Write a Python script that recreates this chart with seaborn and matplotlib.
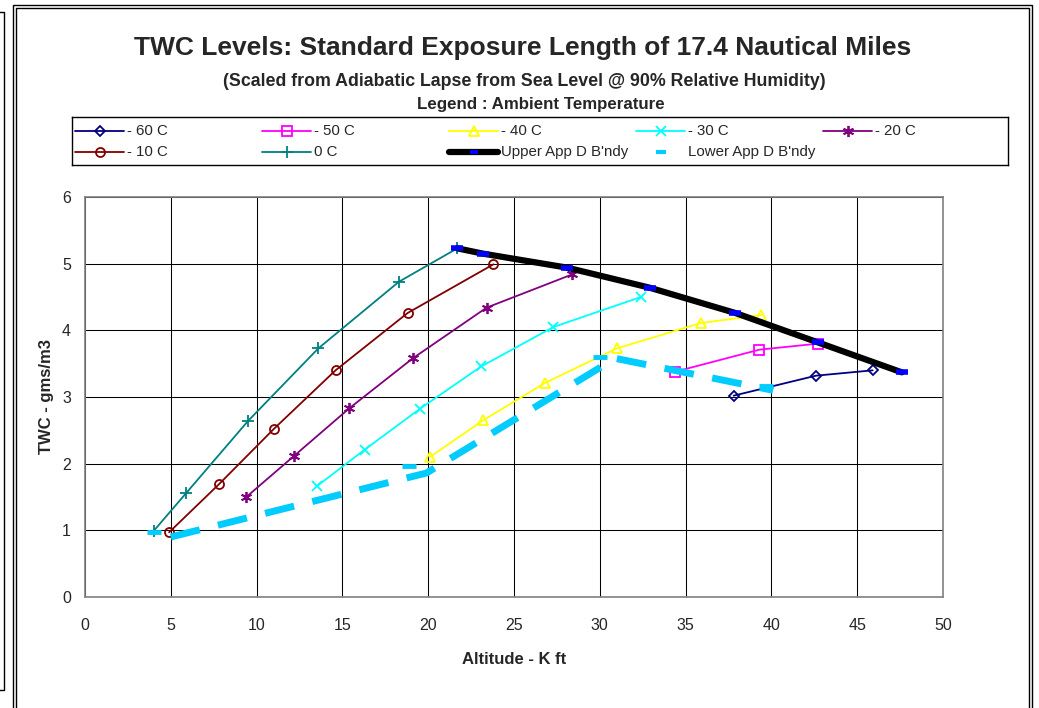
import matplotlib
matplotlib.use("Agg")
import matplotlib.pyplot as plt
import matplotlib.lines as mlines
import matplotlib.patches as mpatches
import seaborn as sns
import pandas as pd

# ---------------- data ----------------
series_labels = ["- 60 C", "- 50 C", "- 40 C", "- 30 C", "- 20 C", "- 10 C", "0 C"]

alt_m60 = [37.8, 42.6, 45.9]
twc_m60 = [3.02, 3.32, 3.40]
alt_m50 = [34.4, 39.3, 42.7]
twc_m50 = [3.38, 3.71, 3.80]
alt_m40 = [20.1, 23.2, 26.8, 31.0, 35.9, 39.4]
twc_m40 = [2.10, 2.65, 3.21, 3.73, 4.11, 4.23]
alt_m30 = [13.5, 16.3, 19.5, 23.1, 27.3, 32.4]
twc_m30 = [1.66, 2.21, 2.82, 3.46, 4.05, 4.50]
alt_m20 = [9.4, 12.2, 15.4, 19.1, 23.4, 28.4]
twc_m20 = [1.50, 2.12, 2.83, 3.58, 4.34, 4.84]
alt_m10 = [4.9, 7.8, 11.0, 14.6, 18.8, 23.8]
twc_m10 = [0.97, 1.69, 2.52, 3.40, 4.26, 4.99]
alt_0 = [4.0, 5.9, 9.5, 13.6, 18.3, 21.7]
twc_0 = [0.99, 1.56, 2.64, 3.73, 4.73, 5.23]

upper_alt = [21.7, 23.2, 28.1, 32.9, 37.9, 42.7, 47.6]
upper_twc = [5.23, 5.15, 4.94, 4.64, 4.26, 3.82, 3.37]

lower_line_alt = [5.0, 19.9, 30.9, 40.1]
lower_line_twc = [0.90, 1.86, 3.58, 3.10]
lower_mark_alt = [4.0, 18.9, 30.0, 39.7]
lower_mark_twc = [0.98, 1.96, 3.60, 3.16]

x_ticks = [0, 5, 10, 15, 20, 25, 30, 35, 40, 45, 50]
y_ticks = [0, 1, 2, 3, 4, 5, 6]

# ---------------- styles ----------------
sns.set_style("white")
plt.rcParams["font.family"] = ["Liberation Sans", "DejaVu Sans"]

colors = ["#000080", "#FF00FF", "#FFFF00", "#00FFFF", "#800080", "#800000", "#008080"]
markers = ["D", "s", "^", "x", (6, 2, 0), "o", "+"]
msizes = [5, 6.5, 7, 7, 8, 6.5, 8]
filled = [False, False, False, True, True, False, True]

alts = [alt_m60, alt_m50, alt_m40, alt_m30, alt_m20, alt_m10, alt_0]
twcs = [twc_m60, twc_m50, twc_m40, twc_m30, twc_m20, twc_m10, twc_0]

frames = []
for lab, a, t in zip(series_labels, alts, twcs):
    frames.append(pd.DataFrame({"series": lab, "alt": a, "twc": t}))
df = pd.concat(frames, ignore_index=True)

W, H = 1039, 708
fig = plt.figure(figsize=(W / 100, H / 100), dpi=100)

def fx(px):
    return px / W

def fy(py):
    return 1 - py / H

# outer frames
fig.add_artist(mpatches.Rectangle((fx(13), fy(712)), fx(1032) - fx(13), fy(5) - fy(712),
                                  fill=False, lw=1.0, ec="black", transform=fig.transFigure))
fig.add_artist(mpatches.Rectangle((fx(16), fy(712)), fx(1029) - fx(16), fy(8) - fy(712),
                                  fill=False, lw=1.0, ec="black", transform=fig.transFigure))
fig.add_artist(mlines.Line2D([fx(-2), fx(4), fx(4), fx(-2)], [fy(12), fy(12), fy(690), fy(690)],
                             lw=1.0, color="black", transform=fig.transFigure))

ax = fig.add_axes([fx(85), fy(597), fx(943) - fx(85), fy(197) - fy(597)])

for i, lab in enumerate(series_labels):
    sub = df[df["series"] == lab]
    mfc = colors[i] if filled[i] else "none"
    sns.lineplot(data=sub, x="alt", y="twc", ax=ax, color=colors[i], lw=1.3,
                 marker=markers[i], markersize=msizes[i], markerfacecolor=mfc,
                 markeredgecolor=colors[i], markeredgewidth=1.3, sort=False,
                 estimator=None, legend=False, zorder=3)

# Upper boundary
up = pd.DataFrame({"alt": upper_alt, "twc": upper_twc})
sns.lineplot(data=up, x="alt", y="twc", ax=ax, color="black", lw=4.5, sort=False,
             estimator=None, legend=False, zorder=4)
ax.plot(up["alt"], up["twc"], ls="none", marker="_", ms=9, mew=4, color="#0000FF", zorder=5)

# Lower boundary
lo = pd.DataFrame({"alt": lower_line_alt, "twc": lower_line_twc})
sns.lineplot(data=lo, x="alt", y="twc", ax=ax, color="#00CCFF", lw=5, sort=False,
             estimator=None, legend=False, zorder=4)
ax.lines[-1].set_dashes([4.3, 2.7])
ax.plot(lower_mark_alt, lower_mark_twc, ls="none", marker="_", ms=10, mew=3.5,
        color="#00CCFF", zorder=4)

ax.set_xlim(0, 50)
ax.set_ylim(0, 6)
ax.set_xticks(x_ticks)
ax.set_yticks(y_ticks)
ax.set_xticklabels([str(v) for v in x_ticks], fontsize=11.5)
ax.set_yticklabels([str(v) for v in y_ticks], fontsize=11.5)
ax.grid(True, color="black", lw=0.75)
ax.set_axisbelow(True)
for s in ax.spines.values():
    s.set_color("#808080")
    s.set_linewidth(1.2)
ax.tick_params(axis="x", direction="out", length=4, width=1, color="#808080", pad=11)
ax.tick_params(axis="y", direction="out", length=4, width=1, color="#808080", pad=6)
ax.set_xlabel("Altitude - K ft", fontsize=12, fontweight="bold", labelpad=14)
ax.set_ylabel("TWC - gms/m3", fontsize=12, fontweight="bold", labelpad=6)

# titles
fig.text(fx(523), fy(48), "TWC Levels: Standard Exposure Length of 17.4 Nautical Miles",
         ha="center", va="center", fontsize=19, fontweight="bold")
fig.text(fx(524), fy(81), "(Scaled from Adiabatic Lapse from Sea Level @ 90% Relative Humidity)",
         ha="center", va="center", fontsize=12.8, fontweight="bold")
fig.text(fx(541), fy(104), "Legend : Ambient Temperature",
         ha="center", va="center", fontsize=12.2, fontweight="bold")

# legend (fixed-width columns like the original)
lax = fig.add_axes([fx(72), fy(165), fx(1008) - fx(72), fy(117) - fy(165)])
lax.set_xlim(72, 1008)
lax.set_ylim(165, 117)
lax.set_xticks([])
lax.set_yticks([])
for s in lax.spines.values():
    s.set_color("black")
    s.set_linewidth(1.0)

legend_labels = series_labels + ["Upper App D B'ndy", "Lower App D B'ndy"]
for k, lab in enumerate(legend_labels):
    row, col = divmod(k, 5)
    x0 = 75 + 187 * col
    yy = 131 + 21 * row
    xs = [x0, x0 + 49]
    xm = x0 + 24.5
    if k < 7:
        mfc = colors[k] if filled[k] else "none"
        lax.plot(xs, [yy, yy], color=colors[k], lw=1.3)
        lax.plot([xm], [yy], marker=markers[k], ms=msizes[k], mfc=mfc,
                 mec=colors[k], mew=1.3, ls="none")
    elif k == 7:
        lax.plot(xs, [yy, yy], color="black", lw=4.5)
        lax.plot([xm], [yy], marker="_", ms=6, mew=3, color="#0000FF", ls="none")
    else:
        lax.plot([xm], [yy], marker="_", ms=7, mew=3, color="#00CCFF", ls="none")
    lax.text(x0 + 52, yy, lab, ha="left", va="center", fontsize=10.8)

fig.savefig("out.png", dpi=100)
